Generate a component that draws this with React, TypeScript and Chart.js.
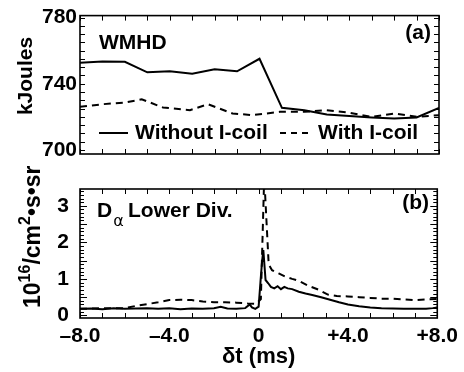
import React, { useEffect, useRef } from 'react';
import { Chart, registerables } from 'chart.js';

Chart.register(...registerables);

const FONT = "'Liberation Sans', Arial, Helvetica, sans-serif";

// ---------- shared ----------
const seriesLabels = ['Without I-coil', 'With I-coil'];
const timeTickValues = [-8, -4, 0, 4, 8];
const timeTickText = ['\u20138.0', '\u20134.0', '0', '+4.0', '+8.0'];
const timeMinorTicks = [-8, -7, -6, -5, -4, -3, -2, -1, 0, 1, 2, 3, 4, 5, 6, 7, 8];

// ---------- panel (a): WMHD ----------
const wmhdTimeWithout = [-8, -7, -6, -5, -4, -3, -2, -1, 0, 1, 2, 3, 4, 5, 6, 7, 8];
const wmhdWithout = [752.7, 753.5, 753.3, 746.9, 747.5, 746.1, 748.7, 747.5, 755.1, 725.4, 724.0, 721.4, 720.5, 719.6, 719.0, 719.6, 725.4];
const wmhdTimeWith = [-8, -7, -6, -5.25, -4.3, -3.1, -2.3, -1.2, -0.3, 0.9, 2, 3, 4, 5, 6, 7, 8];
const wmhdWith = [726, 727.6, 728.6, 730.6, 725.6, 724, 727.6, 722, 721, 723, 723, 724, 722.5, 719.9, 722, 720, 721];
const wmhdTickValues = [700, 740, 780];
const wmhdMinorTicks = [700, 705, 710, 715, 720, 725, 730, 735, 740, 745, 750, 755, 760, 765, 770, 775, 780];

// ---------- panel (b): D-alpha lower divertor ----------
const daTimeWithout = [-8, -7.5, -7, -6.5, -6, -5.5, -5, -4.5, -4, -3.5, -3, -2.5, -2, -1.7, -1.4, -1, -0.6, -0.4, -0.3, -0.15, 0, 0.08, 0.15, 0.21, 0.31, 0.43, 0.55, 0.7, 0.85, 1.0, 1.15, 1.3, 1.5, 1.8, 2.1, 2.4, 2.8, 3.2, 3.6, 4.0, 4.5, 5.0, 5.5, 6.0, 6.5, 7.0, 7.5, 7.8, 8.0];
const daWithout = [0.18, 0.19, 0.17, 0.2, 0.18, 0.19, 0.2, 0.18, 0.2, 0.17, 0.19, 0.18, 0.2, 0.24, 0.19, 0.18, 0.2, 0.3, 0.22, 0.18, 0.24, 0.9, 1.45, 1.79, 0.97, 0.88, 0.78, 0.74, 0.8, 0.72, 0.78, 0.74, 0.72, 0.65, 0.6, 0.56, 0.5, 0.43, 0.36, 0.3, 0.25, 0.22, 0.2, 0.19, 0.18, 0.18, 0.18, 0.2, 0.22];
const daTimeWith = [-8, -7, -6, -5.5, -5, -4.5, -4, -3.5, -3, -2.5, -2, -1.5, -1, -0.5, -0.1, 0.1, 0.25, 0.45, 0.6, 0.9, 1.2, 1.5, 1.8, 2.2, 2.7, 3.1, 3.5, 4.0, 4.5, 5.0, 5.5, 6.0, 6.5, 7.0, 7.5, 8.0];
const daWith = [0.18, 0.2, 0.2, 0.26, 0.31, 0.36, 0.42, 0.43, 0.42, 0.38, 0.36, 0.36, 0.35, 0.33, 0.32, 0.45, 3.8, 1.4, 1.24, 1.15, 1.06, 1.0, 0.95, 0.82, 0.7, 0.57, 0.53, 0.52, 0.5, 0.48, 0.46, 0.46, 0.44, 0.42, 0.44, 0.45];
const daTickValues = [0, 1, 2, 3];
const daMinorTicks = Array.from({ length: 35 }, (_, i) => i / 10);
const daMajorTicks = [0, 0.5, 1, 1.5, 2, 2.5, 3];

const bold = (s: number) => `bold ${s}px ${FONT}`;

function makeFrame(yMinor: number[], yMajor: number[], minorLen: number, majorLen: number) {
  return {
    id: 'frame',
    afterDatasetsDraw(chart: any) {
      const { ctx, chartArea } = chart;
      const { left, right, top, bottom } = chartArea;
      const xs = chart.scales.x;
      const ys = chart.scales.y;
      ctx.save();
      ctx.strokeStyle = '#000';
      ctx.lineWidth = 1;
      ctx.beginPath();
      for (const v of timeMinorTicks) {
        const p = Math.round(xs.getPixelForValue(v)) + 0.5;
        ctx.moveTo(p, bottom);
        ctx.lineTo(p, bottom - 5);
        ctx.moveTo(p, top);
        ctx.lineTo(p, top + 5);
      }
      for (const v of yMinor) {
        const L = yMajor.some((m) => Math.abs(m - v) < 1e-6) ? majorLen : minorLen;
        const p = Math.round(ys.getPixelForValue(v)) + 0.5;
        ctx.moveTo(left, p);
        ctx.lineTo(left + L, p);
        ctx.moveTo(right, p);
        ctx.lineTo(right - L, p);
      }
      ctx.stroke();
      ctx.lineWidth = 1.6;
      ctx.strokeRect(left, top, right - left, bottom - top);
      ctx.restore();
    },
  };
}

const overlayA = {
  id: 'overlayA',
  afterDraw(chart: any) {
    const { ctx } = chart;
    ctx.save();
    ctx.fillStyle = '#000';
    ctx.strokeStyle = '#000';
    ctx.font = bold(21);
    ctx.textBaseline = 'middle';
    ctx.textAlign = 'left';
    ctx.fillText('WMHD', 99, 43);
    ctx.textAlign = 'right';
    ctx.fillText('(a)', 431, 33);
    // legend
    ctx.textAlign = 'left';
    ctx.lineWidth = 2;
    ctx.beginPath();
    ctx.moveTo(99, 133);
    ctx.lineTo(128, 133);
    ctx.stroke();
    ctx.fillText(seriesLabels[0], 135, 133);
    ctx.setLineDash([6, 5]);
    ctx.beginPath();
    ctx.moveTo(280, 133);
    ctx.lineTo(311, 133);
    ctx.stroke();
    ctx.setLineDash([]);
    ctx.fillText(seriesLabels[1], 318, 133);
    // y title
    ctx.translate(32, 76);
    ctx.rotate(-Math.PI / 2);
    ctx.textAlign = 'center';
    ctx.textBaseline = 'alphabetic';
    ctx.fillText('kJoules', 0, 0);
    ctx.restore();
  },
};

const overlayB = {
  id: 'overlayB',
  afterDraw(chart: any) {
    const { ctx } = chart;
    ctx.save();
    ctx.fillStyle = '#000';
    ctx.font = bold(21);
    ctx.textBaseline = 'middle';
    ctx.textAlign = 'left';
    ctx.fillText('D', 97, 211);
    const dW = ctx.measureText('D').width;
    ctx.font = `16px 'DejaVu Sans', sans-serif`;
    ctx.fillText('\u03b1', 97 + dW + 1, 222);
    ctx.font = bold(21);
    ctx.fillText('Lower Div.', 128, 211);
    ctx.textAlign = 'right';
    ctx.fillText('(b)', 429, 203);
    // y title with superscripts
    ctx.translate(40, 308);
    ctx.rotate(-Math.PI / 2);
    ctx.textAlign = 'left';
    ctx.textBaseline = 'alphabetic';
    const parts: [string, boolean][] = [['10', false], ['16', true], ['/cm', false], ['2', true], ['\u2022s\u2022sr', false]];
    let x = 0;
    for (const [txt, sup] of parts) {
      ctx.font = sup ? bold(16) : bold(23);
      ctx.fillText(txt, x, sup ? -10 : 0);
      x += ctx.measureText(txt).width;
    }
    ctx.restore();
  },
};

const lineStyle = { borderColor: '#000', borderWidth: 2, pointRadius: 0, tension: 0, fill: false };

export default function App() {
  const refA = useRef<HTMLCanvasElement>(null);
  const refB = useRef<HTMLCanvasElement>(null);

  useEffect(() => {
    Chart.defaults.color = '#000';
    const chartA = new Chart(refA.current!, {
      type: 'line',
      data: {
        datasets: [
          { label: seriesLabels[0], data: wmhdTimeWithout.map((t, i) => ({ x: t, y: wmhdWithout[i] })), ...lineStyle },
          { label: seriesLabels[1], data: wmhdTimeWith.map((t, i) => ({ x: t, y: wmhdWith[i] })), ...lineStyle, borderDash: [7, 5] },
        ],
      },
      options: {
        animation: false,
        responsive: false,
        events: [],
        layout: { padding: { left: 0, right: 25, top: 15, bottom: 218 } },
        plugins: { legend: { display: false }, tooltip: { enabled: false } },
        scales: {
          x: { type: 'linear', min: -8, max: 8, display: false },
          y: {
            type: 'linear',
            min: 697.5,
            max: 781.2,
            afterFit: (s: any) => { s.width = 80; },
            afterBuildTicks: (s: any) => { s.ticks = wmhdTickValues.map((v) => ({ value: v })); },
            grid: { display: false, drawTicks: false },
            border: { display: false },
            ticks: { padding: 3, color: '#000', font: { family: FONT, size: 21, weight: 'bold' } },
          },
        },
      } as any,
      plugins: [makeFrame(wmhdMinorTicks, [], 5, 5), overlayA],
    });

    const chartB = new Chart(refB.current!, {
      type: 'line',
      data: {
        datasets: [
          { label: seriesLabels[0], data: daTimeWithout.map((t, i) => ({ x: t, y: daWithout[i] })), ...lineStyle },
          { label: seriesLabels[1], data: daTimeWith.map((t, i) => ({ x: t, y: daWith[i] })), ...lineStyle, borderDash: [7, 5] },
        ],
      },
      options: {
        animation: false,
        responsive: false,
        events: [],
        layout: { padding: { left: 0, right: 25, top: 189, bottom: 0 } },
        plugins: { legend: { display: false }, tooltip: { enabled: false } },
        scales: {
          x: {
            type: 'linear',
            min: -8,
            max: 8,
            afterFit: (s: any) => { s.height = 54; },
            afterBuildTicks: (s: any) => { s.ticks = timeTickValues.map((v) => ({ value: v })); },
            grid: { display: false, drawTicks: false },
            border: { display: false },
            ticks: {
              padding: 6,
              autoSkip: false,
              maxRotation: 0,
              color: '#000',
              font: { family: FONT, size: 21, weight: 'bold' },
              callback: (v: any) => timeTickText[timeTickValues.indexOf(Number(v))],
            },
            title: {
              display: true,
              text: '\u03b4t (ms)',
              color: '#000',
              font: { family: FONT, size: 22, weight: 'bold' },
              padding: { top: 0, bottom: 2 },
            },
          },
          y: {
            type: 'linear',
            min: -0.07,
            max: 3.46,
            afterFit: (s: any) => { s.width = 80; },
            afterBuildTicks: (s: any) => { s.ticks = daTickValues.map((v) => ({ value: v })); },
            grid: { display: false, drawTicks: false },
            border: { display: false },
            ticks: { padding: 11, color: '#000', font: { family: FONT, size: 21, weight: 'bold' } },
          },
        },
      } as any,
      plugins: [makeFrame(daMinorTicks, daMajorTicks, 4, 7), overlayB],
    });

    return () => {
      chartA.destroy();
      chartB.destroy();
    };
  }, []);

  return (
    <div style={{ position: 'fixed', left: 0, top: 0, width: 464, height: 372, background: '#fff' }}>
      <canvas ref={refB} width={464} height={372} style={{ position: 'absolute', left: 0, top: 0, width: 464, height: 372 }} />
      <canvas ref={refA} width={464} height={372} style={{ position: 'absolute', left: 0, top: 0, width: 464, height: 372 }} />
    </div>
  );
}
